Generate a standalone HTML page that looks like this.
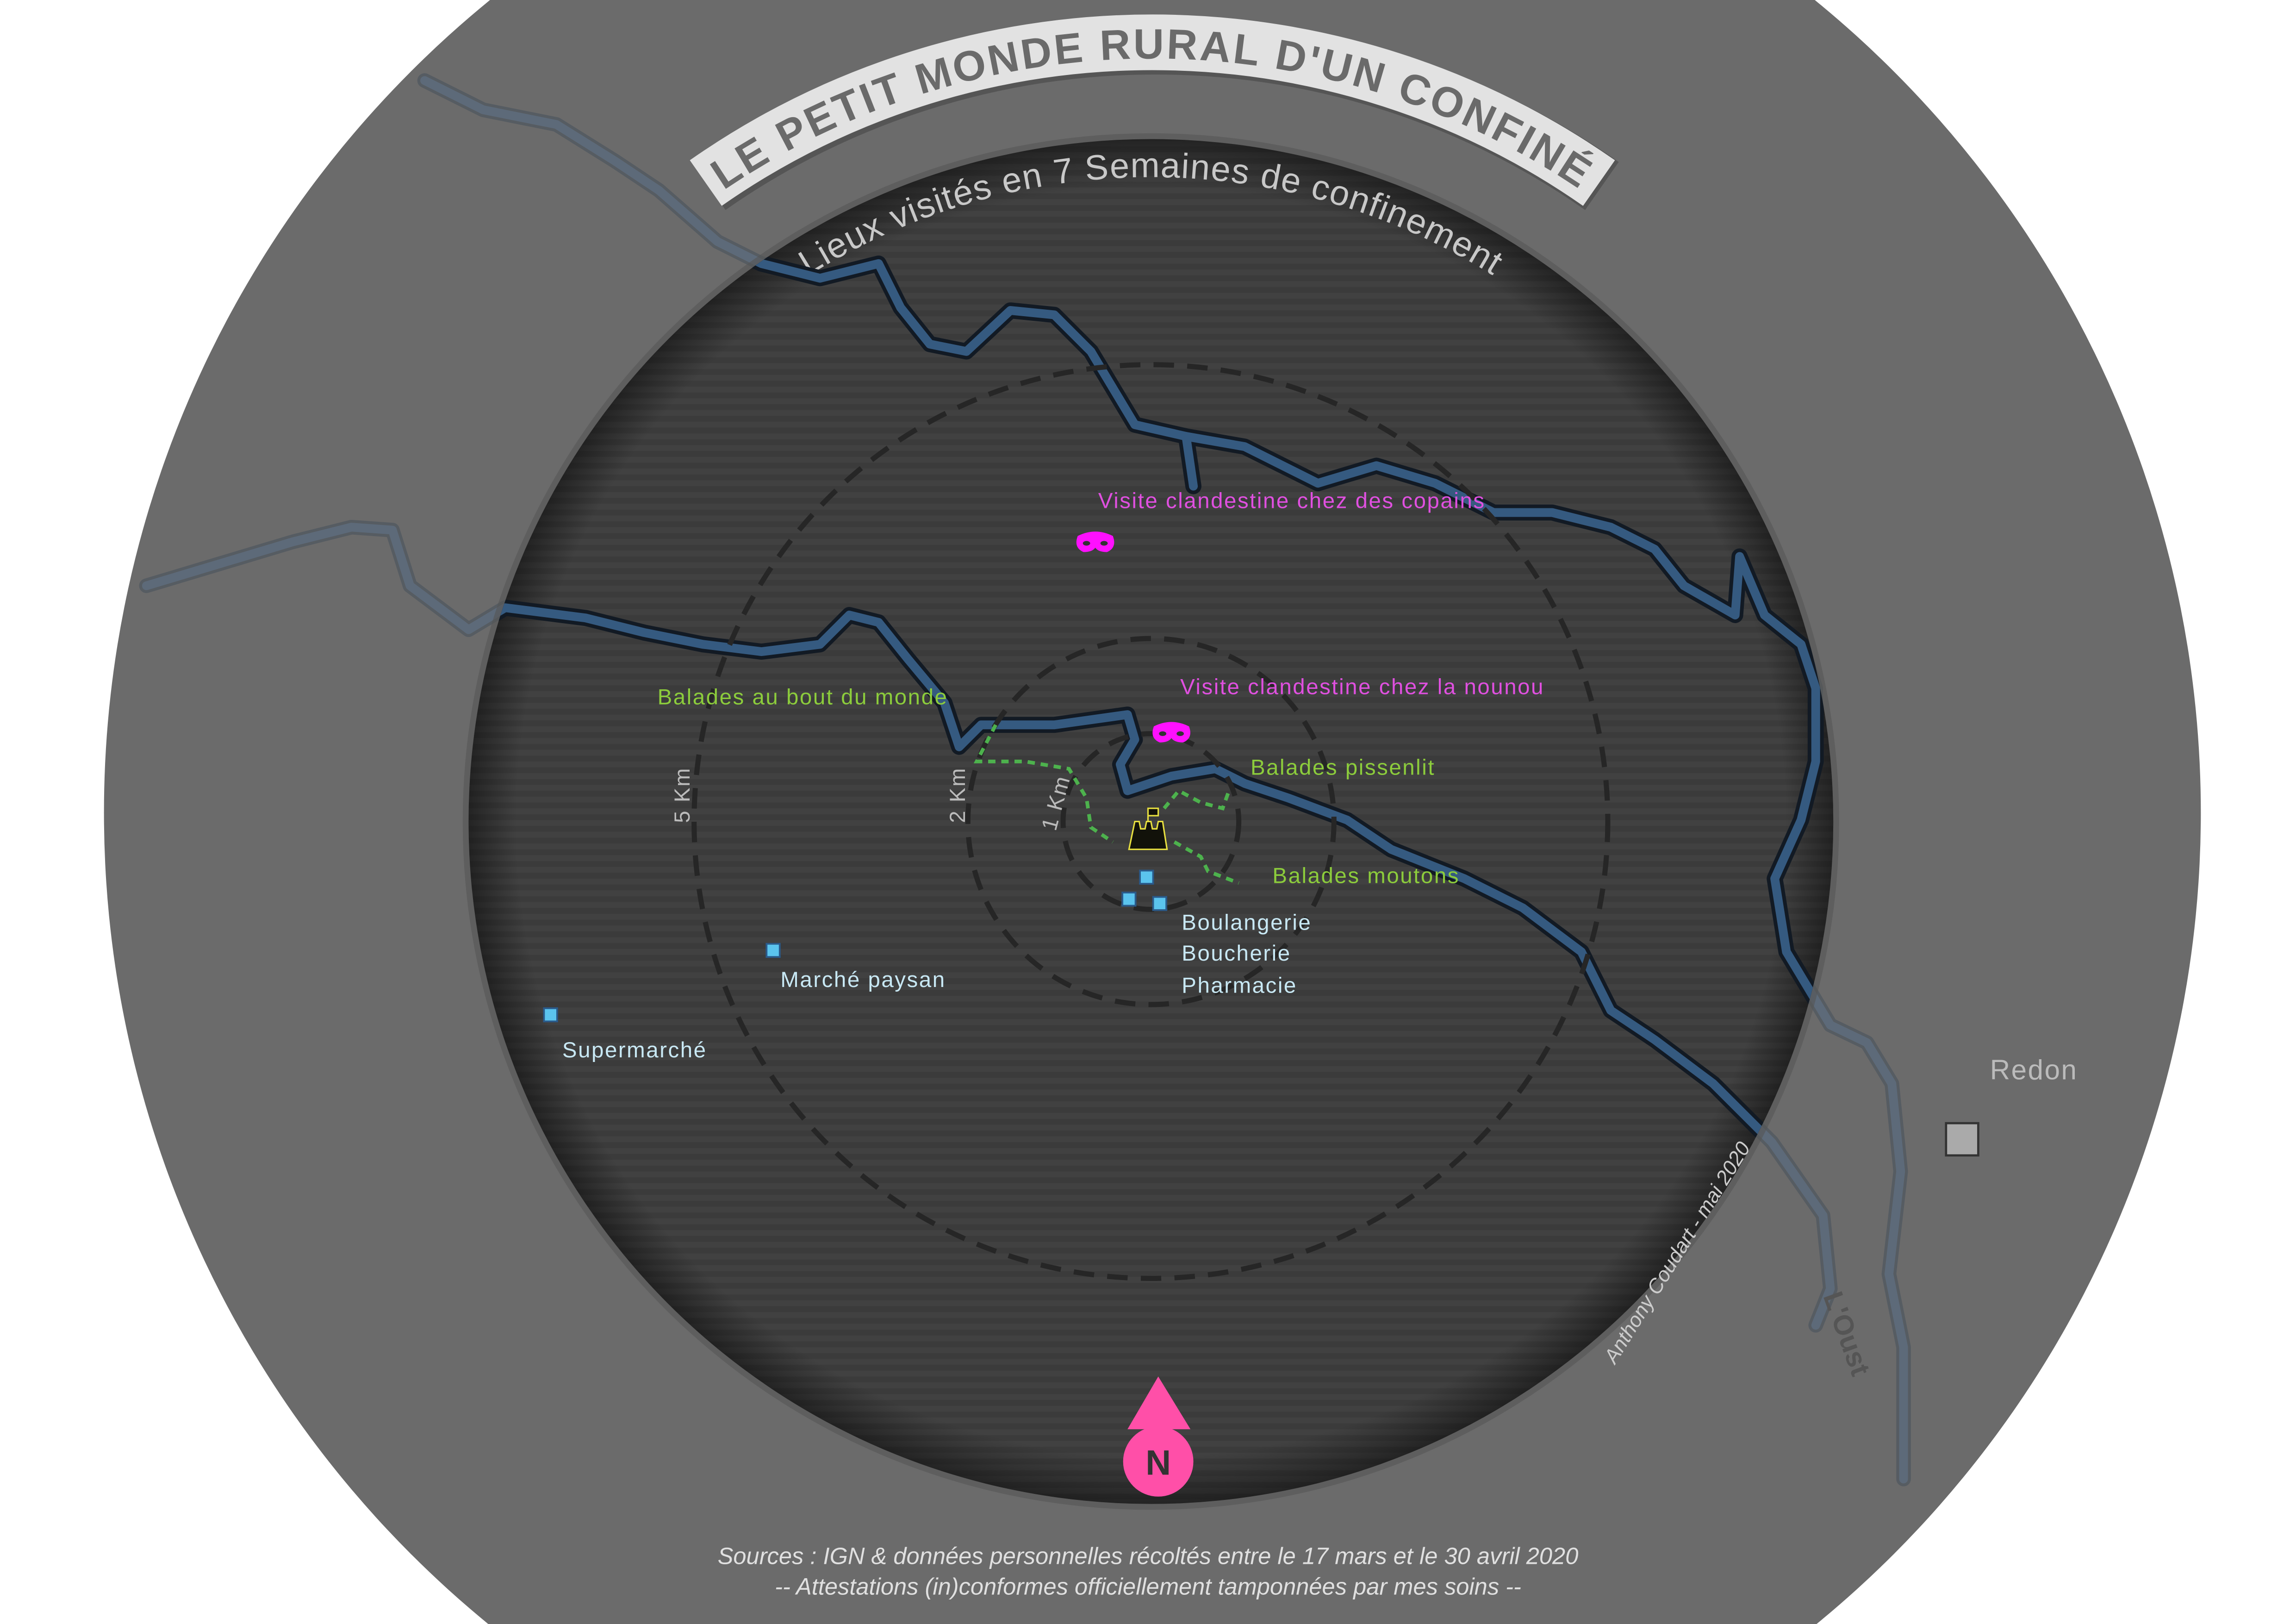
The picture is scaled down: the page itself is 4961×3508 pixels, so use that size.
<!DOCTYPE html>
<html><head><meta charset="utf-8"><style>
html,body{margin:0;padding:0;background:#fff;overflow:hidden;width:4961px;height:3508px;}
svg{display:block;overflow:hidden;width:4961px;height:3508px;}
text{font-family:"Liberation Sans","DejaVu Sans",sans-serif;}
</style></head><body>
<svg width="4961" height="3508" viewBox="0 0 1568 1109" preserveAspectRatio="none" xmlns="http://www.w3.org/2000/svg">
<defs>
<pattern id="stripes" width="10" height="8" patternUnits="userSpaceOnUse">
<rect width="10" height="8" fill="#3b3b3b"/><rect width="10" height="4" fill="#414141"/>
</pattern>
<radialGradient id="edge" cx="786" cy="561" r="466" gradientUnits="userSpaceOnUse">
<stop offset="0.93" stop-color="#000" stop-opacity="0"/><stop offset="1" stop-color="#000" stop-opacity="0.45"/>
</radialGradient>
<clipPath id="inner"><circle cx="786" cy="561" r="466"/></clipPath>
<clipPath id="frame"><rect width="1568" height="1109"/></clipPath>
<path id="titleArc" d="M 255 561 A 532 532 0 0 1 1319 561"/>
<path id="subArc" d="M 346 561 A 440 440 0 0 1 1226 561"/>
<g id="rivers">
<path d="M290 55 L330 75 L380 85 L420 110 L450 130 L490 165 L520 180 L560 190 L600 180 L615 210 L635 235 L660 240 L690 212 L720 215 L745 240 L775 290 L810 298 L850 305 L900 330 L940 318 L980 330 L1020 350 L1060 350 L1100 360 L1130 375 L1150 400 L1185 420 L1188 380 L1205 420 L1230 440 L1240 470 L1240 520 L1230 560 L1212 600 L1220 650 L1250 700 L1275 712 L1292 740 L1298 800 L1290 870 L1300 920 L1300 1010"/>
<path d="M810 298 L815 332"/>
<path d="M100 400 L150 385 L200 370 L240 360 L268 362 L280 400 L320 430 L345 415 L400 422 L440 432 L480 440 L520 445 L560 440 L580 420 L600 425 L620 450 L645 480 L655 510 L670 495 L720 495 L770 488 L775 505 L765 522 L770 540 L800 530 L830 525 L850 535 L880 545 L920 560 L950 580 L1000 600 L1040 620 L1080 650 L1100 690 L1130 710 L1170 740 L1210 780 L1245 830 L1250 880 L1240 905"/>
</g>
</defs>
<g clip-path="url(#frame)">
<rect width="1568" height="1109" fill="#fff"/>
<circle cx="787" cy="555" r="716" fill="#6b6b6b"/>
<g fill="none" stroke-linejoin="round" stroke-linecap="round" opacity="0.45">
<use href="#rivers" stroke="#3e4a58" stroke-width="10"/>
<use href="#rivers" stroke="#4d6a8a" stroke-width="6"/>
</g>
<path d="M 482 125 A 532 532 0 0 1 1092 125" fill="none" stroke="#555" stroke-width="40" transform="translate(2,2)"/>
<path d="M 482 125 A 532 532 0 0 1 1092 125" fill="none" stroke="#e2e2e2" stroke-width="38"/>
<text font-size="29" font-weight="bold" fill="#6a6a6a" letter-spacing="2" text-anchor="middle" dy="11"><textPath href="#titleArc" startOffset="50%">LE PETIT MONDE RURAL D'UN CONFINÉ</textPath></text>
<circle cx="786" cy="561" r="470" fill="#555" opacity="0.6"/>
<circle cx="786" cy="561" r="466" fill="url(#stripes)"/>
<circle cx="786" cy="561" r="466" fill="url(#edge)"/>
<text font-size="24" fill="#c8c8c8" text-anchor="middle" letter-spacing="0.6"><textPath href="#subArc" startOffset="50%">Lieux visités en 7 Semaines de confinement</textPath></text>
<g clip-path="url(#inner)" fill="none" stroke-linejoin="round" stroke-linecap="round">
<use href="#rivers" stroke="#121a24" stroke-width="11"/>
<use href="#rivers" stroke="#355a80" stroke-width="6"/>
</g>
<g fill="none" stroke="#262626" stroke-width="3.5" stroke-dasharray="14 9">
<circle cx="786" cy="561" r="312"/>
<circle cx="786" cy="561" r="125"/>
<circle cx="786" cy="561" r="60"/>
</g>
<g fill="none" stroke="#4db24d" stroke-width="2.5" stroke-dasharray="5 4">
<path d="M680 495 L667 520 L700 520 L730 525 L742 545 L745 565 L760 575"/>
<path d="M795 552 L805 540 L820 548 L835 552 L840 538"/>
<path d="M802 575 L820 585 L825 595 L846 603"/>
</g>
<path d="M771 580 L775 561 L778 561 L779 566 L782 566 L783 561 L786 561 L787 566 L790 566 L791 561 L794 561 L797 580 Z" fill="#12120a" stroke="#e8e040" stroke-width="1"/>
<path d="M784 561 L784 552 L791 552 L791 557 L784 557" fill="#12120a" stroke="#e8e040" stroke-width="1"/>
<g fill="#ff10ff">
<path d="M736 366 Q748 360 760 366 Q763 374 756 377 Q750 377 748 374 Q746 377 740 377 Q733 374 736 366 Z"/>
<path d="M788 496 Q800 490 812 496 Q815 504 808 507 Q802 507 800 504 Q798 507 792 507 Q785 504 788 496 Z"/>
</g>
<g fill="#333"><ellipse cx="742" cy="371" rx="2.5" ry="1.6"/><ellipse cx="754" cy="371" rx="2.5" ry="1.6"/><ellipse cx="794" cy="501" rx="2.5" ry="1.6"/><ellipse cx="806" cy="501" rx="2.5" ry="1.6"/></g>
<g fill="#5bc4ee" stroke="#2a5a8a" stroke-width="1.2">
<rect x="778.5" y="594.5" width="9" height="9"/><rect x="766.5" y="609.5" width="9" height="9"/><rect x="787.5" y="612.5" width="9" height="9"/>
<rect x="523.5" y="644.5" width="9" height="9"/><rect x="371.5" y="688.5" width="9" height="9"/>
</g>
<rect x="1329" y="767" width="22" height="22" fill="#aaa" stroke="#333" stroke-width="1.5"/>
<g font-size="15" letter-spacing="0.8">
<text x="750" y="347" fill="#e050e0">Visite clandestine chez des copains</text>
<text x="806" y="474" fill="#e050e0">Visite clandestine chez la nounou</text>
<text x="449" y="481" fill="#8ccc3c">Balades au bout du monde</text>
<text x="854" y="529" fill="#8ccc3c">Balades pissenlit</text>
<text x="869" y="603" fill="#8ccc3c">Balades moutons</text>
<text x="807" y="635" fill="#c8e8f4">Boulangerie</text>
<text x="807" y="656" fill="#c8e8f4">Boucherie</text>
<text x="807" y="678" fill="#c8e8f4">Pharmacie</text>
<text x="533" y="674" fill="#c8e8f4">Marché paysan</text>
<text x="384" y="722" fill="#c8e8f4">Supermarché</text>
<text transform="translate(471,562) rotate(-90)" fill="#bbb">5 Km</text>
<text transform="translate(659,562) rotate(-90)" fill="#bbb">2 Km</text>
<text transform="translate(721,568) rotate(-75)" fill="#bbb">1 Km</text>
</g>
<text x="1359" y="737" font-size="19" fill="#bbb" letter-spacing="0.8">Redon</text>
<text transform="translate(1245,885) rotate(70)" font-size="19" fill="#555" font-weight="bold">L'Oust</text>
<text transform="translate(1103,932) rotate(-58)" font-size="14" font-style="italic" fill="#ccc">Anthony Coudart - mai 2020</text>
<path d="M791 940 L770 976 L813 976 Z" fill="#ff4fa8"/>
<circle cx="791" cy="998" r="24" fill="#ff4fa8"/>
<text x="791" y="1007" font-size="24" font-weight="bold" fill="#333" text-anchor="middle">N</text>
<g font-size="16" font-style="italic" fill="#e0e0e0" text-anchor="middle">
<text x="784" y="1068">Sources : IGN &amp; données personnelles récoltés entre le 17 mars et le 30 avril 2020</text>
<text x="784" y="1089">-- Attestations (in)conformes officiellement tamponnées par mes soins --</text>
</g>
</g>
</svg>
</body></html>
